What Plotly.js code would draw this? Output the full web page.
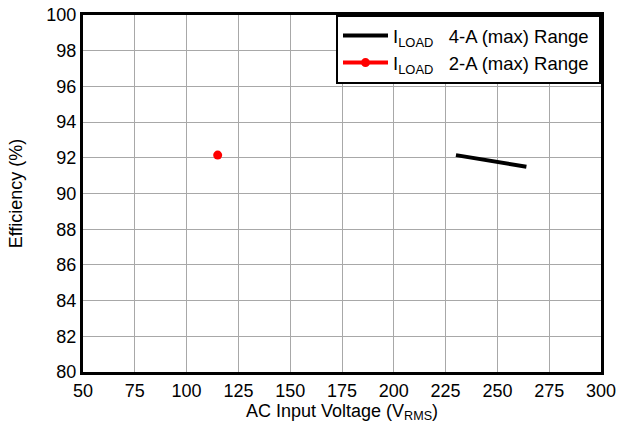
<!DOCTYPE html>
<html>
<head>
<meta charset="utf-8">
<script src="https://cdn.plot.ly/plotly-3.0.1.min.js"></script>
<style>html,body{margin:0;padding:0;background:#fff}#chart{width:618px;height:428px}</style>
</head>
<body>
<div id="chart"></div>
<script>
const series4AVoltage = [230, 264];
const series4AEfficiency = [92.15, 91.5];
const series2AVoltage = [115];
const series2AEfficiency = [92.15];
const seriesNames = ["I<sub>LOAD</sub>&nbsp;&nbsp;&nbsp;4-A (max) Range&nbsp;", "I<sub>LOAD</sub>&nbsp;&nbsp;&nbsp;2-A (max) Range&nbsp;"];
const xTicks = [50, 75, 100, 125, 150, 175, 200, 225, 250, 275, 300];
const yTicks = [80, 82, 84, 86, 88, 90, 92, 94, 96, 98, 100];

const font = {family: "Liberation Sans, Arial, sans-serif", size: 18, color: "#000"};
const legendFont = {family: "Liberation Sans, Arial, sans-serif", size: 18.5, color: "#000"};
const data = [
  {x: series4AVoltage, y: series4AEfficiency, name: seriesNames[0], mode: "lines",
   line: {color: "#000", width: 4}},
  {x: series2AVoltage, y: series2AEfficiency, name: seriesNames[1], mode: "lines+markers",
   line: {color: "#ff0000", width: 4}, marker: {color: "#ff0000", size: 9}}
];
const axisCommon = {showline: true, mirror: true, linecolor: "#000", linewidth: 3,
  showgrid: true, gridcolor: "#a8a8a8", gridwidth: 1, ticks: "", zeroline: false,
  tickfont: font};
const layout = {
  width: 618, height: 428,
  margin: {l: 83, r: 17, t: 15, b: 56},
  paper_bgcolor: "#fff", plot_bgcolor: "#fff",
  font: font,
  showlegend: true,
  legend: {x: 1, y: 1, xanchor: "right", yanchor: "top", bgcolor: "#fff",
    bordercolor: "#000", borderwidth: 2, font: legendFont, tracegroupgap: 0,
    itemwidth: 45},
  xaxis: Object.assign({}, axisCommon, {range: [50, 300], tickvals: xTicks,
    ticktext: xTicks.map(String),
    title: {text: "AC Input Voltage (V<sub>RMS</sub>)", font: font, standoff: 5}}),
  yaxis: Object.assign({}, axisCommon, {range: [80, 100], tickvals: yTicks,
    ticktext: yTicks.map(String),
    title: {text: "Efficiency (%)", font: font, standoff: 20}})
};
Plotly.newPlot("chart", data, layout, {displayModeBar: false, staticPlot: true});
</script>
</body>
</html>
